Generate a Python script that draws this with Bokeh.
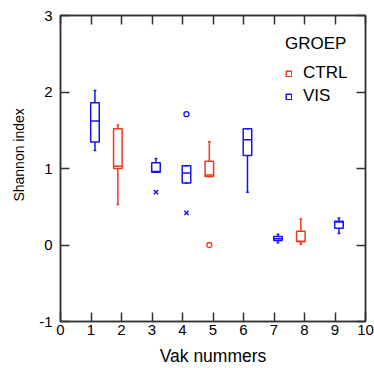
import numpy as np
from bokeh.plotting import figure
from bokeh.models import (ColumnDataSource, LinearAxis, FixedTicker, Legend,
                          LegendItem, Range1d)
from bokeh.embed import file_html
from bokeh.resources import INLINE

# ---- data ----
vak = [1, 2, 3, 4, 5, 6, 7, 8, 9]
groep = ["VIS", "CTRL", "VIS", "VIS", "CTRL", "VIS", "VIS", "CTRL", "VIS"]
whisker_low = [1.235, 0.53, 0.95, 0.81, 0.895, 0.69, 0.03, 0.01, 0.15]
q1 = [1.345, 1.00, 0.95, 0.81, 0.895, 1.17, 0.06, 0.044, 0.22]
median = [1.62, 1.03, 0.96, 0.94, 0.915, 1.375, 0.083, 0.05, 0.30]
q3 = [1.86, 1.52, 1.075, 1.035, 1.095, 1.52, 0.11, 0.18, 0.31]
whisker_high = [2.02, 1.57, 1.13, 1.035, 1.35, 1.52, 0.14, 0.34, 0.354]

outlier_vak = [4, 5]
outlier_groep = ["VIS", "CTRL"]
outlier_val = [1.71, 0.0]

extreme_vak = [3, 4]
extreme_groep = ["VIS", "VIS"]
extreme_val = [0.69, 0.42]

groups = ["CTRL", "VIS"]
x_ticks = list(range(0, 11))
y_ticks = [-1, 0, 1, 2, 3]
y_tick_labels = ["-1", "0", "1", "2", "3"]

# ---- styles ----
colors = {"CTRL": "#EE3A1A", "VIS": "#1414F0"}
offset = {"CTRL": -0.12, "VIS": 0.13}
box_w = 0.28
cap_w = 0.09
FONT = "Liberation Sans"
AX = "#333333"

p = figure(width=374, height=368, x_range=Range1d(0, 10), y_range=Range1d(-1, 3),
           output_backend="svg", toolbar_location=None,
           min_border_left=60, min_border_right=9, min_border_top=15,
           min_border_bottom=47)
p.xgrid.visible = False
p.ygrid.visible = False
p.outline_line_color = AX
p.outline_line_width = 1.5
p.background_fill_color = "white"
p.border_fill_color = "white"

def style_axis(ax, ticks, show_labels):
    ax.ticker = FixedTicker(ticks=ticks, minor_ticks=[])
    ax.major_tick_in = 9
    ax.major_tick_out = 0
    ax.minor_tick_in = 0
    ax.minor_tick_out = 0
    ax.axis_line_color = AX
    ax.axis_line_width = 1.5
    ax.major_tick_line_color = AX
    ax.major_tick_line_width = 1.5
    ax.major_label_text_font = FONT
    ax.major_label_text_font_size = "15px"
    ax.major_label_text_color = "black"
    ax.axis_label_text_font = FONT
    ax.axis_label_text_font_style = "normal"
    ax.axis_label_text_color = "black"
    if not show_labels:
        ax.major_label_overrides = {t: "" for t in ticks}

xa = p.xaxis[0]
style_axis(xa, x_ticks, True)
xa.axis_label = "Vak nummers"
xa.axis_label_text_font_size = "17.5px"
xa.major_label_standoff = 3
xa.axis_label_standoff = 8

ya = p.yaxis[0]
style_axis(ya, y_ticks, True)
ya.major_label_overrides = dict(zip(y_ticks, y_tick_labels))
ya.major_label_standoff = 8
# leading non-breaking spaces lift the centred title a little, as in the reference
ya.axis_label = "\u00a0" * 7 + "Shannon index"
ya.axis_label_text_font_size = "14px"
ya.axis_label_standoff = 9

top = LinearAxis()
style_axis(top, x_ticks, False)
p.add_layout(top, "above")
right = LinearAxis()
style_axis(right, y_ticks, False)
p.add_layout(right, "right")

legend_items = []
for g in groups:
    idx = [i for i, gg in enumerate(groep) if gg == g]
    xs = np.array([vak[i] for i in idx], dtype=float) + offset[g]
    src = ColumnDataSource(dict(
        x=xs,
        left=xs - box_w / 2, right=xs + box_w / 2,
        cl=xs - cap_w / 2, cr=xs + cap_w / 2,
        wl=[whisker_low[i] for i in idx], q1=[q1[i] for i in idx],
        med=[median[i] for i in idx], q3=[q3[i] for i in idx],
        wh=[whisker_high[i] for i in idx],
    ))
    c = colors[g]
    p.segment(x0="x", y0="wl", x1="x", y1="q1", source=src, line_color=c, line_width=1.5)
    p.segment(x0="x", y0="q3", x1="x", y1="wh", source=src, line_color=c, line_width=1.5)
    p.segment(x0="cl", y0="wl", x1="cr", y1="wl", source=src, line_color=c, line_width=1.5)
    p.segment(x0="cl", y0="wh", x1="cr", y1="wh", source=src, line_color=c, line_width=1.5)
    box = p.quad(left="left", right="right", bottom="q1", top="q3", source=src,
                 fill_color=None, line_color=c, line_width=1.5)
    p.segment(x0="left", y0="med", x1="right", y1="med", source=src, line_color=c, line_width=1.5)
    legend_items.append(LegendItem(label=g, renderers=[box]))

    oi = [i for i, gg in enumerate(outlier_groep) if gg == g]
    if oi:
        p.scatter(x=[outlier_vak[i] + offset[g] for i in oi], y=[outlier_val[i] for i in oi],
                  marker="circle", size=5, fill_color=None, line_color=c, line_width=1.3)
    ei = [i for i, gg in enumerate(extreme_groep) if gg == g]
    if ei:
        p.scatter(x=[extreme_vak[i] + offset[g] for i in ei], y=[extreme_val[i] for i in ei],
                  marker="x", size=6, line_color=c, line_width=1.5)

legend = Legend(items=legend_items, title="GROEP", location=(225, 215),
                glyph_width=7, glyph_height=7, label_standoff=11, spacing=3,
                padding=0, margin=0, border_line_color=None,
                background_fill_alpha=0, title_standoff=9,
                title_text_font=FONT, title_text_font_size="17px",
                title_text_font_style="normal", title_text_color="black",
                label_text_font=FONT, label_text_font_size="17px",
                label_text_color="black")
p.add_layout(legend)

open("out.html", "w").write(file_html(p, INLINE))
